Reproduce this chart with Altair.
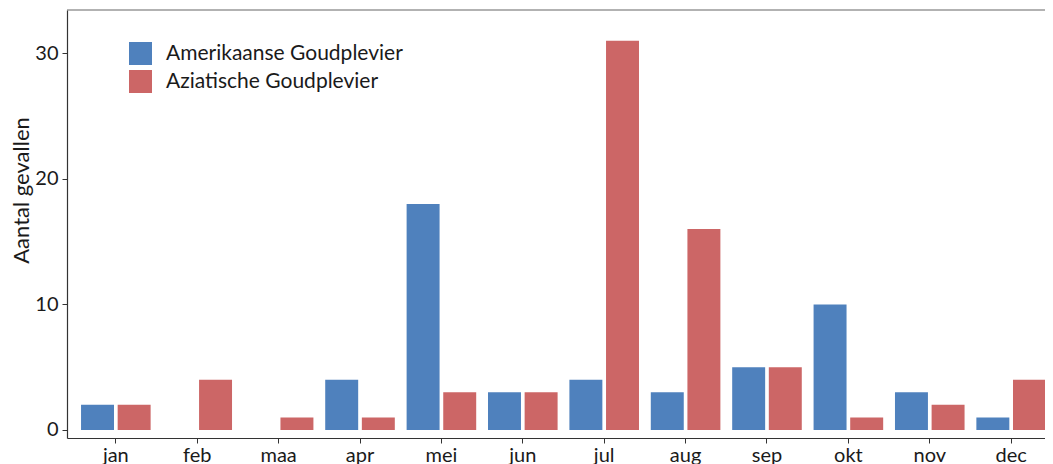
import altair as alt
import pandas as pd

months = ["jan", "feb", "maa", "apr", "mei", "jun", "jul", "aug", "sep", "okt", "nov", "dec"]
species = ["Amerikaanse Goudplevier", "Aziatische Goudplevier"]
amerikaanse = [2, 0, 0, 4, 18, 3, 4, 3, 5, 10, 3, 1]
aziatische = [2, 4, 1, 1, 3, 3, 31, 16, 5, 1, 2, 4]
colors = ["#4F81BD", "#CC6666"]

rows = []
for i, m in enumerate(months):
    rows.append({"maand": m, "soort": species[0], "aantal": amerikaanse[i]})
    rows.append({"maand": m, "soort": species[1], "aantal": aziatische[i]})
df = pd.DataFrame(rows)

FONT = "Lato"
W = 978

bars = alt.Chart(df).mark_bar().encode(
    x=alt.X("maand:N", sort=months, title=None,
            scale=alt.Scale(paddingInner=0.1, paddingOuter=0.15, range=[0, 993]),
            axis=alt.Axis(labelAngle=0, labelFontSize=20, labelColor="#1a1a1a",
                          labelFont=FONT, tickSize=5, tickColor="#333333",
                          domainColor="#333333", domainWidth=1.2, labelPadding=2)),
    xOffset=alt.XOffset("soort:N", sort=species,
                        scale=alt.Scale(paddingInner=0.1, paddingOuter=0.05)),
    y=alt.Y("aantal:Q", title="Aantal gevallen",
            scale=alt.Scale(domain=[-0.64, 33.45], nice=False, zero=False),
            axis=alt.Axis(values=[0, 10, 20, 30], grid=False, labelFontSize=20,
                          labelColor="#1a1a1a", labelFont=FONT, tickSize=5,
                          tickColor="#333333", domainColor="#333333", domainWidth=1.2,
                          labelPadding=4, titleFont=FONT, titleFontSize=22,
                          titleFontWeight="normal", titleColor="#1a1a1a",
                          titleAngle=-90, titleX=-46, titleY=180,
                          titleBaseline="middle", titleAlign="center")),
    y2=alt.datum(0),
    color=alt.Color("soort:N", sort=species,
                    scale=alt.Scale(domain=species, range=colors),
                    legend=alt.Legend(title=None, orient="none", legendX=62, legendY=32,
                                      symbolType="square", symbolSize=529,
                                      symbolStrokeWidth=0, symbolOpacity=1,
                                      labelFont=FONT, labelFontSize=21, labelLimit=0,
                                      labelColor="#1a1a1a", labelOffset=14,
                                      rowPadding=5)),
)

top_line = alt.Chart(pd.DataFrame({"k": [0]})).mark_rule(
    color="#666666", strokeWidth=1.2
).encode(x=alt.value(0), x2=alt.value(1000), y=alt.value(0))

chart = alt.layer(bars, top_line).properties(
    width=W, height=428,
    autosize=alt.AutoSizeParams(type="none"),
    padding={"left": 59, "top": 2, "right": 0, "bottom": 32},
).configure_view(stroke=None)

chart.save("out.html", embed_options={"renderer": "svg", "actions": False})
